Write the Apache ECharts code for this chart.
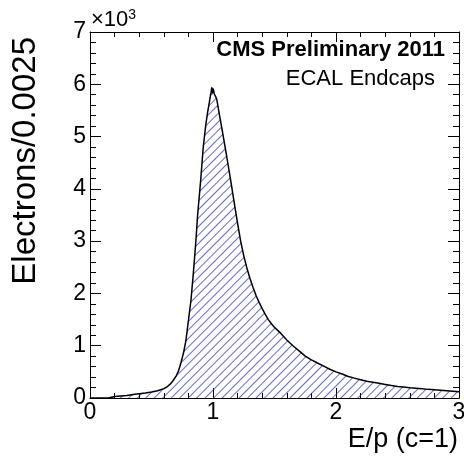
<!DOCTYPE html>
<html>
<head>
<meta charset="utf-8">
<script src="https://cdn.jsdelivr.net/npm/echarts@6/dist/echarts.min.js"></script>
<style>
  html, body { margin: 0; padding: 0; background: #fff; }
  #chart { width: 464px; height: 458px; }
</style>
</head>
<body>
<div id="chart"></div>
<script>
// E/p bin positions and electron counts per 0.0025 bin (ECAL endcaps)
const epValues = [
  0, 0.15, 0.16, 0.2, 0.25, 0.3, 0.35, 0.4, 0.45, 0.5, 0.55, 0.6, 0.625, 0.65, 0.675,
  0.7, 0.72, 0.74, 0.76, 0.78, 0.8, 0.82, 0.84, 0.86, 0.875, 0.89, 0.9, 0.92, 0.94,
  0.955, 0.97, 0.98, 0.985, 0.99, 0.995, 1.0, 1.005, 1.01, 1.03, 1.05, 1.075, 1.1,
  1.125, 1.15, 1.175, 1.2, 1.225, 1.25, 1.275, 1.3, 1.325, 1.35, 1.375, 1.4, 1.425,
  1.45, 1.475, 1.5, 1.55, 1.6, 1.65, 1.7, 1.75, 1.8, 1.85, 1.9, 1.95, 2.0, 2.05, 2.1,
  2.15, 2.2, 2.25, 2.3, 2.35, 2.4, 2.45, 2.5, 2.55, 2.6, 2.65, 2.7, 2.75, 2.8, 2.85,
  2.9, 2.95, 3.0
];
const electronCounts = [
  0, 0, 20, 30, 40, 50, 65, 80, 95, 115, 140, 180, 210, 260, 330,
  420, 520, 680, 860, 1100, 1480, 1850, 2380, 2980, 3500, 3900, 4170, 4780, 5200,
  5450, 5650, 5800, 5850, 5940, 5830, 5920, 5880, 5820, 5720, 5450, 5120, 4780,
  4430, 4070, 3700, 3340, 3000, 2720, 2490, 2290, 2120, 1960, 1830, 1710, 1600,
  1500, 1420, 1350, 1240, 1110, 1000, 900, 800, 730, 670, 610, 550, 500, 460, 410,
  380, 350, 320, 300, 280, 260, 240, 220, 210, 195, 185, 175, 165, 160, 150,
  140, 130, 120
];
const xTickLabels = ['0', '1', '2', '3'];
const yTickLabels = ['0', '1', '2', '3', '4', '5', '6', '7'];

const FONT = '"Liberation Sans", Arial, Helvetica, sans-serif';

const chart = echarts.init(document.getElementById('chart'), null, { renderer: 'canvas' });

// frame axis pieces, one fresh object per axis
const frameLine = () => ({ show: true, onZero: false, lineStyle: { color: '#000', width: 1 } });
const xTick = () => ({ show: true, inside: true, length: 10, lineStyle: { color: '#000', width: 1 } });
const xMinor = () => ({ show: true, splitNumber: 5, length: 5, lineStyle: { color: '#000', width: 1 } });
const yTick = () => ({ show: true, inside: true, length: 11, lineStyle: { color: '#000', width: 1 } });
const yMinor = () => ({ show: true, splitNumber: 5, length: 6, lineStyle: { color: '#000', width: 1 } });

chart.setOption({
  animation: false,
  backgroundColor: '#fff',
  grid: { left: 90, top: 32, width: 369, height: 366, containLabel: false, outerBoundsMode: 'none' },
  xAxis: [
    {
      type: 'value', position: 'bottom', min: 0, max: 3, interval: 1,
      axisLine: frameLine(), axisTick: xTick(), minorTick: xMinor(),
      splitLine: { show: false },
      axisLabel: {
        show: true, margin: 3, color: '#000', fontSize: 23, fontFamily: FONT,
        formatter: (v) => xTickLabels[Math.round(v)]
      }
    },
    {
      // mirrored top edge: ticks only, labels kept but invisible
      type: 'value', position: 'top', min: 0, max: 3, interval: 1,
      axisLine: frameLine(), axisTick: xTick(), minorTick: xMinor(),
      splitLine: { show: false },
      axisLabel: { show: true, color: 'rgba(255,255,255,0)', fontSize: 10 }
    }
  ],
  yAxis: [
    {
      type: 'value', position: 'left', min: 0, max: 7000, interval: 1000,
      axisLine: frameLine(), axisTick: yTick(), minorTick: yMinor(),
      splitLine: { show: false },
      axisLabel: {
        show: true, margin: 4, color: '#000', fontSize: 23, fontFamily: FONT,
        formatter: (v) => yTickLabels[Math.round(v / 1000)]
      }
    },
    {
      // mirrored right edge
      type: 'value', position: 'right', min: 0, max: 7000, interval: 1000,
      axisLine: frameLine(), axisTick: yTick(), minorTick: yMinor(),
      splitLine: { show: false },
      axisLabel: { show: true, color: 'rgba(255,255,255,0)', fontSize: 10 }
    }
  ],
  series: [
    {
      type: 'line',
      xAxisIndex: 0, yAxisIndex: 0,
      data: epValues.map((x, i) => [x, electronCounts[i]]),
      showSymbol: false,
      smooth: false,
      lineStyle: { color: '#000', width: 1.5 },
      itemStyle: {
        color: '#000',
        // "////" hatch filling the histogram
        decal: {
          symbol: 'rect', color: '#2626cc', backgroundColor: 'rgba(0,0,0,0)',
          dashArrayX: [1, 0], dashArrayY: [1, 5], rotation: -Math.PI / 4
        }
      },
      areaStyle: { color: 'rgba(0,0,0,0)' },
      z: 2
    },
    {
      // binds the mirrored top/right frame axes
      type: 'line', xAxisIndex: 1, yAxisIndex: 1, data: [[0, 0], [3, 7000]], showSymbol: false,
      lineStyle: { opacity: 0 }, silent: true
    }
  ],
  graphic: [
    {
      type: 'text', left: 91, top: 8,
      style: {
        text: '×10{s|3}', fill: '#000', font: '22px ' + FONT,
        rich: { s: { fontSize: 14, verticalAlign: 'top', padding: [0, 0, 10, 0], fontFamily: FONT } }
      }
    },
    {
      type: 'text', x: 445, y: 50,
      style: {
        text: 'CMS Preliminary 2011', fill: '#000', font: 'bold 22px ' + FONT,
        align: 'right', verticalAlign: 'middle'
      }
    },
    {
      type: 'text', x: 435, y: 79,
      style: {
        text: 'ECAL Endcaps', fill: '#000', font: '22px ' + FONT,
        align: 'right', verticalAlign: 'middle'
      }
    },
    {
      type: 'text', x: 458, y: 440,
      style: {
        text: 'E/p (c=1)', fill: '#000', font: '27px ' + FONT,
        align: 'right', verticalAlign: 'middle'
      }
    },
    {
      type: 'text', x: 26, y: 37, rotation: Math.PI / 2,
      style: {
        text: 'Electrons/0.0025', fill: '#000', font: '33px ' + FONT,
        align: 'right', verticalAlign: 'middle'
      }
    }
  ]
});
</script>
</body>
</html>
